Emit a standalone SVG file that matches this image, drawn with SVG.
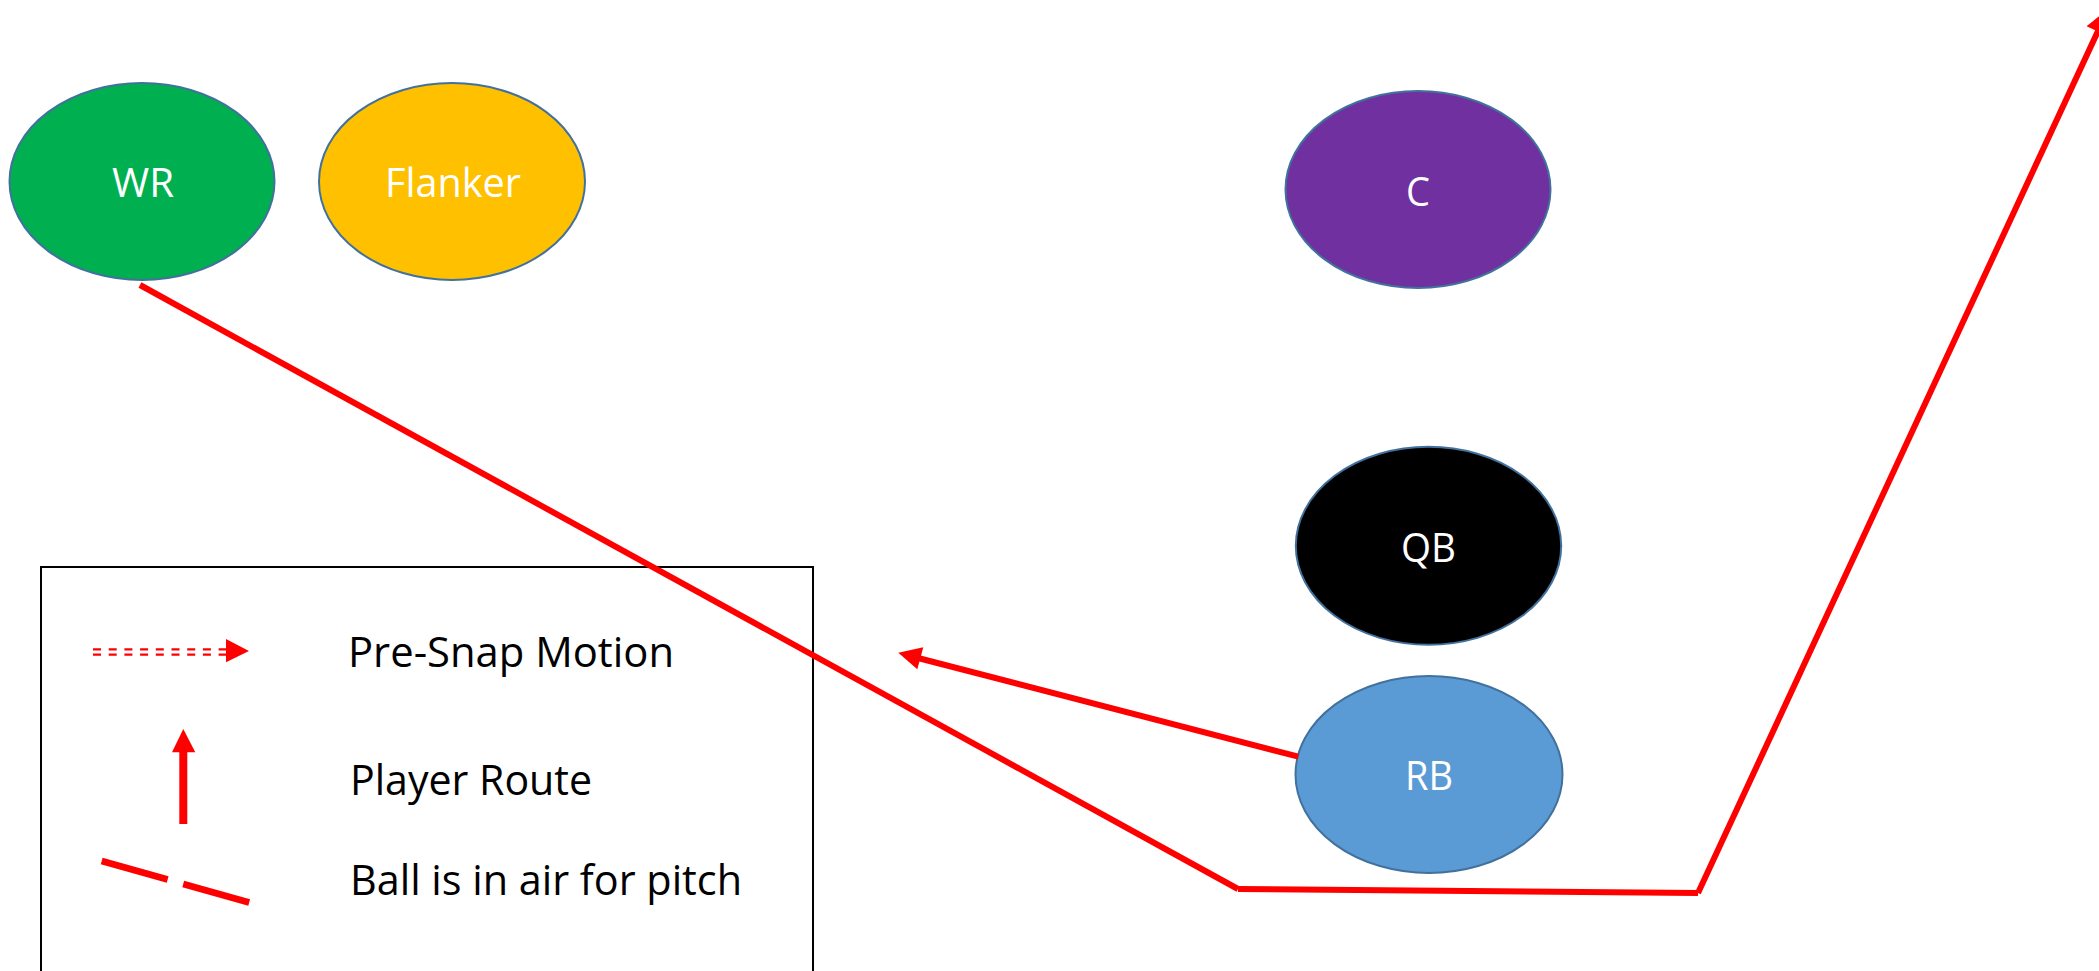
<svg xmlns="http://www.w3.org/2000/svg" width="2099" height="971" viewBox="0 0 2099 971">
<style>
.node{stroke:#41719C;stroke-width:2}
.lbl{font-family:"Open Sans","Liberation Sans",sans-serif;font-size:40px;fill:#FFFFFF;text-anchor:middle}
.leg{font-family:"Open Sans","Liberation Sans",sans-serif;font-size:42px;fill:#000000}
.route{stroke:#FF0000;stroke-width:6;fill:none}
.head{fill:#FF0000;stroke:none}
</style>
<rect width="2099" height="971" fill="#FFFFFF"/>
<g id="legend">
<rect x="41" y="567" width="772" height="420" fill="#FFFFFF" stroke="#000000" stroke-width="2"/>
<g id="legend-presnap">
<line x1="93" y1="649.3" x2="226" y2="649.3" stroke="#FF0000" stroke-width="2.3" stroke-dasharray="8 7.7"/>
<line x1="93" y1="654.7" x2="226" y2="654.7" stroke="#FF0000" stroke-width="2.3" stroke-dasharray="8 7.7"/>
<polygon class="head" points="249,651 226,639 226,662.3"/>
<text class="leg" x="348" y="666.7" textLength="326" lengthAdjust="spacingAndGlyphs">Pre-Snap Motion</text>
</g>
<g id="legend-route">
<line x1="183.3" y1="824" x2="183.3" y2="750" stroke="#FF0000" stroke-width="8"/>
<polygon class="head" points="183.3,729 172,752.3 195.3,752.3"/>
<text class="leg" x="350" y="795" textLength="242" lengthAdjust="spacingAndGlyphs">Player Route</text>
</g>
<g id="legend-pitch">
<line x1="101.7" y1="861" x2="250" y2="902.7" stroke="#FF0000" stroke-width="6.7" stroke-dasharray="68.5 16.2"/>
<text class="leg" x="350" y="895" textLength="392" lengthAdjust="spacingAndGlyphs">Ball is in air for pitch</text>
</g>
</g>
<g id="node-WR">
<ellipse class="node" cx="142" cy="181.5" rx="132.5" ry="98.5" fill="#00B050"/>
<text class="lbl" x="143" y="197" textLength="62" lengthAdjust="spacingAndGlyphs">WR</text>
</g>
<g id="node-Flanker">
<ellipse class="node" cx="452" cy="181.5" rx="133" ry="98.5" fill="#FFC000"/>
<text class="lbl" x="453" y="197" textLength="136" lengthAdjust="spacingAndGlyphs">Flanker</text>
</g>
<g id="node-C">
<ellipse class="node" cx="1418" cy="189.5" rx="132.5" ry="98.5" fill="#7030A0"/>
<text class="lbl" x="1418" y="205.5" textLength="24" lengthAdjust="spacingAndGlyphs">C</text>
</g>
<g id="node-QB">
<ellipse class="node" cx="1428.5" cy="545.8" rx="132.7" ry="99" fill="#000000"/>
<text class="lbl" x="1428.5" y="561.7" textLength="55" lengthAdjust="spacingAndGlyphs">QB</text>
</g>
<g id="node-RB">
<ellipse class="node" cx="1429" cy="774.5" rx="133.5" ry="98.5" fill="#5B9BD5"/>
<text class="lbl" x="1429" y="790" textLength="48" lengthAdjust="spacingAndGlyphs">RB</text>
</g>
<g id="connectors">
<g id="route-WR">
<line class="route" x1="140" y1="285" x2="1238" y2="889"/>
<line class="route" x1="1238" y1="889" x2="1698" y2="893"/>
<line class="route" x1="1698" y1="893" x2="2098" y2="31"/>
<polygon class="head" points="2106.5,10.4 2086.6,26.2 2107.4,35.8"/>
</g>
<g id="route-RB">
<line class="route" x1="1298.3" y1="756.7" x2="918" y2="658"/>
<polygon class="head" points="898.3,652.7 923.3,647.3 917.3,669.3"/>
</g>
</g>
</svg>
